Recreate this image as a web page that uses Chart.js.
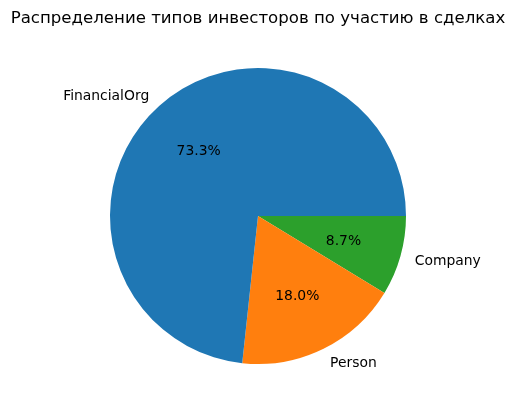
<!DOCTYPE html>
<html>
<head>
<meta charset="utf-8">
<script src="https://cdn.jsdelivr.net/npm/chart.js@4/dist/chart.umd.min.js"></script>
<style>
  html, body { margin: 0; padding: 0; background: #fff; }
  #wrap { width: 515px; height: 411px; }
</style>
</head>
<body>
<div id="wrap"><canvas id="investorChart"></canvas></div>
<script>
// Data (clockwise from 3 o'clock, so matplotlib's counter-clockwise order is reversed)
const titleText = 'Распределение типов инвесторов по участию в сделках';
const categories = ['Company', 'Person', 'FinancialOrg'];
const shares = [8.7, 18.0, 73.3];
const colors = ['#2ca02c', '#ff7f0e', '#1f77b4'];

// Draws outer labels, percentages and the title like matplotlib's pie()
const pieLabels = {
    id: 'pieLabels',
    afterDraw(chart) {
        const ctx = chart.ctx;
        const arcs = chart.getDatasetMeta(0).data;
        ctx.save();
        ctx.fillStyle = '#000';
        ctx.font = '13.9px "DejaVu Sans"';
        ctx.textBaseline = 'middle';
        arcs.forEach((arc, i) => {
            const mid = (arc.startAngle + arc.endAngle) / 2;
            const r = arc.outerRadius;
            // category label at 1.1 r
            const lx = arc.x + Math.cos(mid) * r * 1.1;
            const ly = arc.y + Math.sin(mid) * r * 1.1 + 1;
            ctx.textAlign = Math.cos(mid) >= 0 ? 'left' : 'right';
            ctx.fillText(categories[i], lx, ly);
            // percentage at 0.6 r
            const px = arc.x + Math.cos(mid) * r * 0.6;
            const py = arc.y + Math.sin(mid) * r * 0.6 + 1;
            ctx.textAlign = 'center';
            ctx.fillText(shares[i].toFixed(1) + '%', px, py);
        });
        ctx.font = '16.6px "DejaVu Sans"';
        ctx.textAlign = 'center';
        ctx.fillText(titleText, 258, 19);
        ctx.restore();
    }
};

const ctx = document.getElementById('investorChart').getContext('2d');
new Chart(ctx, {
    type: 'pie',
    data: {
        labels: categories,
        datasets: [{
            data: shares,
            backgroundColor: colors,
            borderWidth: 0
        }]
    },
    options: {
        responsive: true,
        maintainAspectRatio: false,
        animation: false,
        rotation: 90,
        layout: { padding: { top: 68, bottom: 47, left: 110, right: 109 } },
        plugins: {
            legend: { display: false },
            tooltip: { enabled: false },
            title: { display: false }
        }
    },
    plugins: [pieLabels]
});
</script>
</body>
</html>
